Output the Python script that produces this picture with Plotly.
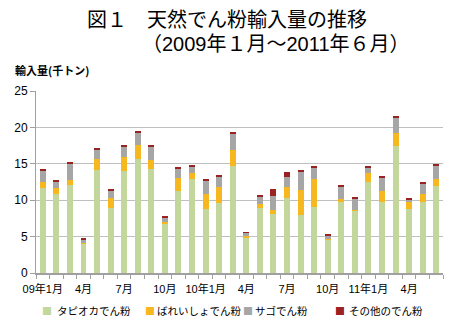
import plotly.graph_objects as go

# Monthly imports of natural starch, Jan 2009 - Jun 2011 (thousand tonnes)
months = [
    "09年1月", "2月", "3月", "4月", "5月", "6月", "7月", "8月", "9月", "10月", "11月", "12月",
    "10年1月", "2月", "3月", "4月", "5月", "6月", "7月", "8月", "9月", "10月", "11月", "12月",
    "11年1月", "2月", "3月", "4月", "5月", "6月",
]
tapioca = [11.7, 10.9, 12.15, 4.0, 14.2, 8.9, 13.95, 15.65, 14.35, 6.8, 11.25, 12.85,
           8.85, 9.6, 14.7, 4.75, 8.95, 8.05, 10.35, 7.9, 9.0, 4.6, 9.75, 8.55,
           12.5, 9.75, 17.45, 8.75, 9.8, 11.9]
potato = [0.75, 0.8, 0.65, 0.1, 1.5, 1.35, 2.0, 1.9, 1.15, 0.15, 1.8, 0.85,
          2.0, 2.25, 2.2, 0.3, 0.55, 0.65, 1.4, 3.45, 3.85, 0.1, 0.45, 0.1,
          1.25, 1.5, 1.75, 1.0, 1.0, 1.0]
sago = [1.65, 0.85, 2.25, 0.45, 1.2, 1.1, 1.4, 1.75, 1.85, 0.7, 1.3, 0.9,
        1.8, 1.3, 2.2, 0.45, 1.05, 1.85, 1.45, 2.6, 1.6, 0.5, 1.7, 1.55,
        0.75, 1.8, 2.15, 0.3, 1.45, 1.8]
other = [0.2, 0.15, 0.1, 0.15, 0.15, 0.2, 0.15, 0.2, 0.15, 0.15, 0.15, 0.15,
         0.2, 0.3, 0.25, 0.1, 0.15, 1.05, 0.65, 0.2, 0.15, 0.15, 0.25, 0.15,
         0.2, 0.2, 0.25, 0.15, 0.25, 0.3]

series_names = ["タピオカでん粉", "ばれいしょでん粉", "サゴでん粉", "その他のでん粉"]
series_colors = ["#C3D69B", "#F6B81E", "#A6A6A6", "#9B2222"]
label_months = [1, 4, 7, 10, 13, 16, 19, 22, 25, 28]

x = list(range(1, len(months) + 1))
label_font = "Liberation Sans, Noto Sans CJK JP, sans-serif"
jp_font = "Noto Sans CJK JP"

# Plot area in pixels, used to place the text blocks around it
W, H = 456, 332
L, R, T, B = 36, 13, 91, 59
pw, ph = W - L - R, H - T - B


def px_x(px):
    return (px - L) / pw


def px_y(py):
    return (H - B - py) / ph


fig = go.Figure()
for name, vals, color in zip(series_names, [tapioca, potato, sago, other], series_colors):
    fig.add_trace(go.Bar(
        x=x, y=vals, name=name, width=0.44,
        marker=dict(color=color, line=dict(width=0)),
        showlegend=False,
    ))

# Invisible trace so the second x axis (month labels) is drawn
fig.add_trace(go.Scatter(x=[x[0], x[-1]], y=[0, 0], xaxis="x2", mode="markers",
                         marker=dict(opacity=0), showlegend=False, hoverinfo="skip"))

annotations = [
    dict(text="図１　天然でん粉輸入量の推移", x=px_x(85), y=px_y(19.5),
         xanchor="left", yanchor="middle", font=dict(size=20, family=label_font)),
    dict(text="（2009年１月～2011年６月）", x=px_x(140), y=px_y(43.5),
         xanchor="left", yanchor="middle", font=dict(size=20, family=label_font)),
    dict(text="<b>輸入量(千トン)</b>", x=px_x(13), y=px_y(70),
         xanchor="left", yanchor="middle", font=dict(size=11, family=jp_font)),
]

# Legend row below the axis: colour swatch + series name
swatch_x = [46.5, 150, 248, 340]
text_x = [55, 155, 253, 347]
for name, color, sx, tx in zip(series_names, series_colors, swatch_x, text_x):
    annotations.append(dict(text="■", x=px_x(sx), y=px_y(310), xanchor="center", yanchor="middle",
                            font=dict(size=10, family=jp_font, color=color)))
    annotations.append(dict(text=name, x=px_x(tx), y=px_y(310), xanchor="left", yanchor="middle",
                            font=dict(size=10.5, family=jp_font, color="#000000")))

for a in annotations:
    a.update(xref="paper", yref="paper", showarrow=False)

fig.update_layout(
    width=W, height=H,
    margin=dict(l=L, r=R, t=T, b=B, autoexpand=False),
    barmode="stack",
    plot_bgcolor="white", paper_bgcolor="white",
    font=dict(family=label_font, size=11, color="#000000"),
    showlegend=False,
    xaxis=dict(
        range=[0.5, len(months) + 0.5],
        tickmode="array",
        tickvals=[i + 0.5 for i in range(0, len(months) + 1)],
        showticklabels=False,
        ticks="outside", ticklen=4, tickcolor="#A0A0A0", tickwidth=1,
        showline=True, linecolor="#A0A0A0", linewidth=2,
        showgrid=False, zeroline=False,
    ),
    xaxis2=dict(
        overlaying="x", matches="x", side="bottom",
        tickmode="array",
        tickvals=label_months,
        ticktext=[months[i - 1] for i in label_months],
        ticks="", showline=False, showgrid=False, zeroline=False,
        tickfont=dict(size=11, family=label_font),
        ticklabelstandoff=8,
    ),
    yaxis=dict(
        range=[0, 25], tickvals=[0, 5, 10, 15, 20, 25],
        ticks="outside", ticklen=5, tickcolor="#A0A0A0",
        showline=True, linecolor="#A0A0A0", linewidth=1,
        showgrid=True, gridcolor="#BFBFBF", gridwidth=1,
        zeroline=False,
        tickfont=dict(size=12, family=label_font),
    ),
    annotations=annotations,
)

fig.write_html("out.html")
